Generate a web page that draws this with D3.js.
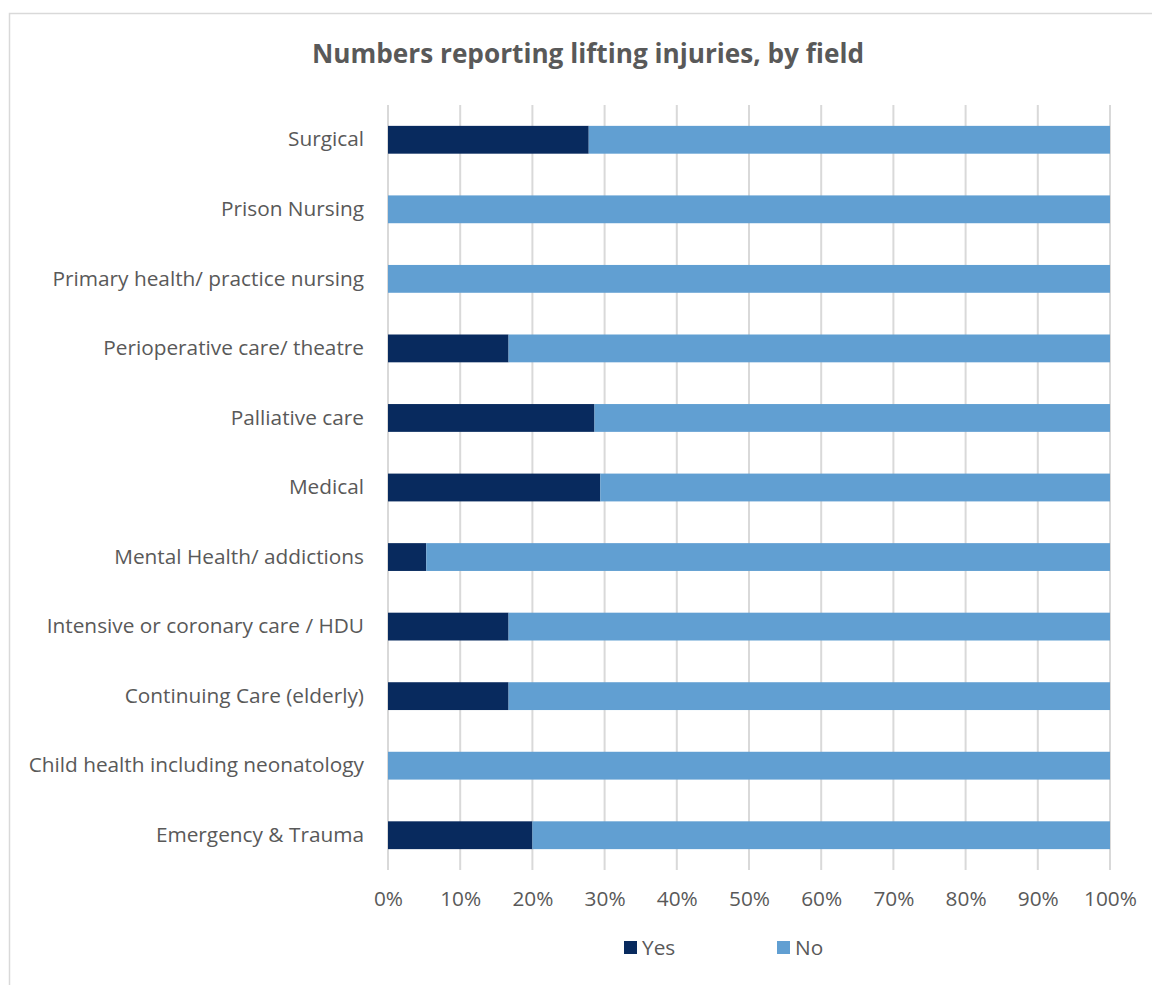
<!DOCTYPE html>
<html>
<head>
<meta charset="utf-8">
<script src="https://cdn.jsdelivr.net/npm/d3@7"></script>
<style>
  html, body { margin: 0; padding: 0; background: #fff; }
  svg { display: block; }
  text { font-family: "Open Sans", "Noto Sans", sans-serif; }
</style>
</head>
<body>
<svg id="chart" width="1152" height="985"></svg>
<script>
const title = "Numbers reporting lifting injuries, by field";
const categories = [
  "Surgical",
  "Prison Nursing",
  "Primary health/ practice nursing",
  "Perioperative care/ theatre",
  "Palliative care",
  "Medical",
  "Mental Health/ addictions",
  "Intensive or coronary care / HDU",
  "Continuing Care (elderly)",
  "Child health including neonatology",
  "Emergency & Trauma"
];
const yesValues = [27.8, 0, 0, 16.7, 28.6, 29.4, 5.3, 16.7, 16.7, 0, 20.0];
const noValues  = [72.2, 100, 100, 83.3, 71.4, 70.6, 94.7, 83.3, 83.3, 100, 80.0];
const seriesNames = ["Yes", "No"];
const seriesColors = ["#082a5e", "#619fd2"];
const tickValues = [0, 0.1, 0.2, 0.3, 0.4, 0.5, 0.6, 0.7, 0.8, 0.9, 1.0];

const svg = d3.select("#chart");
const textColor = "#595959";
const gridColor = "#d9d9d9";
const labelSize = 20.8;

// chart frame
svg.append("rect")
  .attr("x", 9.5).attr("y", 13.5)
  .attr("width", 1160).attr("height", 1000)
  .attr("fill", "#fff").attr("stroke", gridColor).attr("stroke-width", 1.5);

const plot = { left: 388, right: 1110, top: 105, bottom: 870 };

const x = d3.scaleLinear().domain([0, 1]).range([plot.left, plot.right]);
const y = d3.scaleBand().domain(categories).range([plot.top, plot.bottom]).paddingInner(0.6).paddingOuter(0.3);

// title
svg.append("text")
  .attr("x", 588).attr("y", 63)
  .attr("text-anchor", "middle")
  .attr("fill", textColor)
  .attr("font-weight", "bold")
  .attr("font-size", 26.2)
  .text(title);

// gridlines
svg.append("g").selectAll("line").data(tickValues).join("line")
  .attr("x1", d => x(d)).attr("x2", d => x(d))
  .attr("y1", plot.top).attr("y2", plot.bottom)
  .attr("stroke", gridColor).attr("stroke-width", 2);

// stacked data
const rows = categories.map((c, i) => ({ cat: c, Yes: yesValues[i] / 100, No: noValues[i] / 100 }));
const stack = d3.stack().keys(seriesNames)(rows);

svg.append("g").selectAll("g").data(stack).join("g")
  .attr("fill", (d, i) => seriesColors[i])
  .selectAll("rect").data(d => d).join("rect")
  .attr("x", d => x(d[0]))
  .attr("width", d => Math.max(0, x(d[1]) - x(d[0])))
  .attr("y", d => y(d.data.cat))
  .attr("height", y.bandwidth());

// y axis labels
const yAxis = d3.axisLeft(y).tickSize(0).tickPadding(24);
const gy = svg.append("g").attr("transform", `translate(${plot.left},0)`).call(yAxis);
gy.select(".domain").remove();
gy.selectAll("text")
  .attr("fill", textColor)
  .attr("font-size", labelSize)
  .style("font-family", '"Open Sans", sans-serif');

// x axis labels
const xAxis = d3.axisBottom(x).tickValues(tickValues).tickFormat(d3.format(".0%")).tickSize(0).tickPadding(21);
const gx = svg.append("g").attr("transform", `translate(0,${plot.bottom})`).call(xAxis);
gx.select(".domain").remove();
gx.selectAll("text")
  .attr("fill", textColor)
  .attr("font-size", labelSize)
  .style("font-family", '"Open Sans", sans-serif');

// legend
const legendItems = [{ name: "Yes", x: 624 }, { name: "No", x: 777 }];
const lg = svg.append("g").selectAll("g").data(legendItems).join("g")
  .attr("transform", d => `translate(${d.x},941)`);
lg.append("rect").attr("width", 13).attr("height", 13)
  .attr("fill", (d, i) => seriesColors[i]);
lg.append("text").attr("x", 18).attr("y", 6.5).attr("dy", "0.35em")
  .attr("fill", textColor).attr("font-size", labelSize)
  .text(d => d.name);
</script>
</body>
</html>
